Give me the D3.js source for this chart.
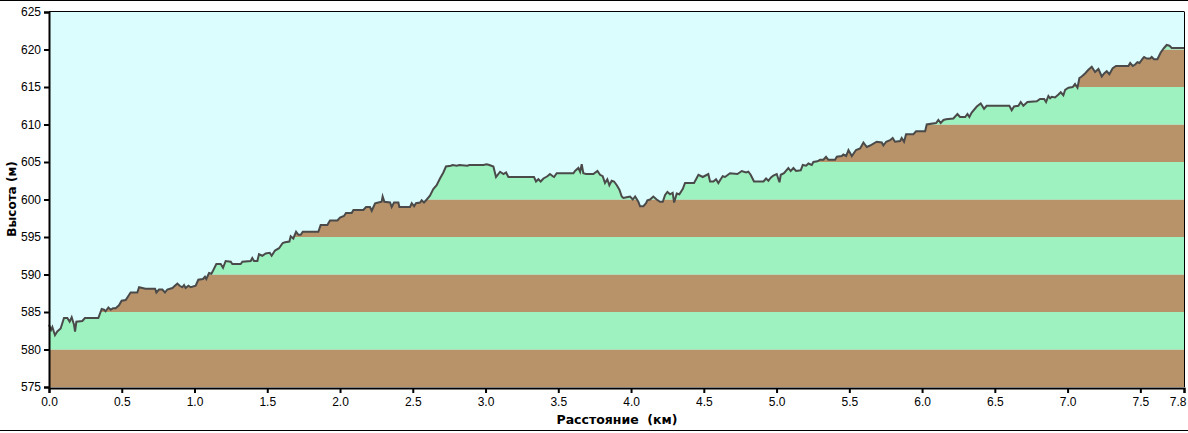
<!DOCTYPE html>
<html><head><meta charset="utf-8">
<script src="https://cdn.jsdelivr.net/npm/d3@7"></script>
<style>
html,body{margin:0;padding:0;background:#fff;}
svg{display:block;}
text{font-family:"Liberation Sans",Arial,sans-serif;}
</style></head>
<body><svg id="c" width="1188" height="433"></svg>
<script>
const distanceKm = [
0.000,0.014,0.023,0.041,0.057,0.080,0.103,0.126,0.142,0.156,0.172,0.179,0.188,0.229,0.247,0.339,0.362,0.378,0.389,0.408,
0.424,0.440,0.458,0.481,0.499,0.527,0.561,0.607,0.619,0.664,0.729,0.738,0.756,0.779,0.797,0.813,0.848,0.882,0.898,0.916,
0.928,0.939,0.958,0.974,1.008,1.026,1.058,1.072,1.081,1.100,1.116,1.127,1.150,1.180,1.196,1.214,1.249,1.260,1.317,1.329,
1.386,1.397,1.409,1.432,1.443,1.466,1.489,1.517,1.530,1.553,1.581,
1.606,1.622,1.652,1.661,1.679,1.698,1.714,1.730,1.744,1.851,1.867,1.913,1.931,1.982,2.000,2.027,2.041,2.080,2.092,2.160,
2.179,2.206,2.218,2.241,2.263,2.286,2.293,2.305,2.344,2.355,2.371,2.401,2.408,2.481,2.493,2.509,2.522,2.550,2.561,2.577,
2.596,2.618,2.641,2.664,2.687,2.710,2.728,2.761,2.774,2.802,2.820,2.875,2.889,2.985,3.008,3.026,3.054,3.072,3.100,3.123,
3.141,3.157,
3.333,3.347,3.363,3.379,3.398,3.425,3.443,3.462,3.471,3.489,3.604,3.615,3.638,3.650,3.661,3.672,3.691,3.741,3.769,3.787,
3.805,3.821,3.837,3.851,3.867,3.883,3.902,3.920,3.936,3.947,3.970,3.993,4.012,4.028,4.050,4.062,4.085,4.103,4.112,4.131,
4.153,4.176,4.199,4.218,4.234,4.250,4.268,4.286,4.296,4.314,4.332,4.355,4.371,4.406,4.433,4.463,4.493,4.531,4.543,4.566,
4.584,4.600,4.616,4.630,4.646,
4.680,4.731,4.761,4.790,4.806,4.822,4.845,4.910,4.928,4.944,4.960,4.978,5.001,5.020,5.029,5.051,5.081,5.097,5.116,5.134,
5.166,5.180,5.203,5.219,5.242,5.253,5.281,5.299,5.322,5.340,5.356,5.402,5.414,5.448,5.459,5.478,5.494,5.517,5.546,5.574,
5.597,5.620,5.643,5.688,5.723,5.734,5.753,5.780,5.798,5.814,5.849,5.860,5.876,5.890,5.940,5.959,6.021,6.032,6.096,6.112,
6.128,6.147,6.165,
6.215,6.243,6.261,6.296,6.312,6.325,6.341,6.376,6.403,6.426,6.444,6.600,6.616,6.632,6.662,6.678,6.696,6.724,6.788,6.811,
6.839,6.852,6.868,6.880,6.891,6.914,6.937,6.953,6.971,6.983,7.006,7.035,7.051,7.068,7.081,7.097,7.120,7.143,7.166,7.189,
7.212,7.235,7.251,7.269,7.287,7.310,7.333,7.418,7.430,7.448,7.464,7.480,7.494,7.517,7.526,7.544,7.567,7.578,7.594,7.617,
7.640,7.663,7.681,7.700,7.716,7.800
];
const elevationM = [
583.3,582.6,583.0,581.9,582.4,582.8,584.2,584.2,583.7,584.3,583.3,582.4,583.7,583.8,584.2,584.2,585.4,585.3,585.1,585.6,
585.3,585.5,585.5,585.9,586.5,586.6,587.6,587.6,588.3,588.1,588.1,587.6,588.0,588.0,587.6,588.0,588.2,588.8,588.5,588.3,
588.6,588.2,588.5,588.3,588.5,589.3,589.4,589.7,589.4,590.2,590.1,590.5,591.4,591.4,590.9,591.8,591.7,591.4,591.4,591.7,
591.8,592.2,591.8,591.8,592.7,592.5,592.8,592.9,592.5,593.2,593.5,
594.2,594.3,594.4,595.1,594.8,595.7,595.3,595.3,595.7,595.7,596.6,596.6,597.2,597.2,597.6,597.8,598.2,598.2,598.6,598.6,
599.0,599.0,598.5,599.5,599.6,599.7,600.4,599.7,599.6,599.0,599.6,599.6,599.0,599.0,599.5,599.1,599.5,599.6,599.9,599.6,
600.0,600.5,601.4,601.9,602.8,603.6,604.4,604.5,604.6,604.5,604.6,604.5,604.6,604.6,604.7,604.6,604.4,603.0,603.7,603.4,
603.6,603.0,
603.0,602.4,602.7,602.4,602.8,603.1,603.4,603.1,603.0,603.5,603.5,603.8,604.2,603.7,604.7,603.5,603.4,603.4,603.8,603.3,
603.1,602.2,602.7,601.9,602.5,602.4,601.9,601.3,600.4,600.2,600.3,600.4,600.0,600.4,599.7,599.1,599.1,599.5,599.9,600.0,
600.4,600.0,599.7,599.7,600.6,601.0,600.7,600.9,599.6,600.8,600.7,601.4,602.2,602.2,602.2,603.3,603.0,603.4,602.4,602.4,
602.7,602.2,602.7,603.1,603.0,
603.5,603.4,603.8,603.6,603.7,603.3,602.4,602.4,602.8,602.5,602.9,603.2,603.4,602.3,603.3,603.5,604.2,603.8,604.2,603.8,
603.9,604.6,604.5,604.8,604.6,605.0,605.1,605.3,605.3,605.7,605.3,605.3,605.7,605.8,606.0,605.8,606.6,605.8,606.6,606.8,
607.6,607.0,607.2,607.7,607.6,607.2,607.7,607.9,608.2,607.7,607.8,608.2,607.7,608.7,608.7,609.1,609.1,610.0,610.2,610.6,
610.2,610.6,610.7,
610.8,611.4,611.0,611.0,611.4,611.0,611.6,612.4,612.8,612.1,612.5,612.5,611.9,612.4,612.5,613.0,612.5,613.0,613.1,613.4,
613.4,613.0,613.8,613.5,613.7,613.6,614.0,614.3,613.9,614.6,614.9,615.0,615.4,614.9,616.2,616.4,616.8,617.3,617.7,617.0,
617.4,616.4,616.8,617.1,616.7,617.5,617.8,617.8,618.2,617.8,618.0,618.3,618.2,618.8,619.0,618.8,618.8,619.0,618.7,618.7,
619.6,620.2,620.6,620.5,620.2,620.2
];
const yTicks = [575,580,585,590,595,600,605,610,615,620,625];
const xTicks = [0,0.5,1.0,1.5,2.0,2.5,3.0,3.5,4.0,4.5,5.0,5.5,6.0,6.5,7.0,7.5,7.8];
const xTickLabels = ["0.0","0.5","1.0","1.5","2.0","2.5","3.0","3.5","4.0","4.5","5.0","5.5","6.0","6.5","7.0","7.5","7.8"];
const bandStarts = [575,580,585,590,595,600,605,610,615,620];
const bandColors = ["#b8936a","#9ef2bf"];
const yTitle = "Высота (м)";
const xTitle = "Расстояние  (км)";

const svg = d3.select("#c");
const x = d3.scaleLinear().domain([0,7.8]).range([49,1184]);
const y = d3.scaleLinear().domain([575,625]).range([387,12]);
const pts = distanceKm.map((d,i)=>[d,elevationM[i]]);

// outer frame lines
svg.append("line").attr("x1",0).attr("x2",1188).attr("y1",0.5).attr("y2",0.5).attr("stroke","#000").attr("stroke-width",1);
svg.append("line").attr("x1",0).attr("x2",1188).attr("y1",430.5).attr("y2",430.5).attr("stroke","#000").attr("stroke-width",1);

// sky background
svg.append("rect").attr("x",x(0)).attr("y",y(625)).attr("width",x(7.8)-x(0)).attr("height",y(575)-y(625)).attr("fill","#dbfdfd");

// clip to terrain area
const area = d3.area().x(d=>x(d[0])).y0(y(575)).y1(d=>y(d[1]));
svg.append("clipPath").attr("id","terr").append("path").attr("d",area(pts));
svg.append("g").attr("clip-path","url(#terr)")
  .selectAll("rect").data(bandStarts).join("rect")
  .attr("x",x(0)).attr("width",x(7.8)-x(0))
  .attr("y",d=>y(d+5)).attr("height",d=>y(d)-y(d+5))
  .attr("fill",(d,i)=>bandColors[i%2]);

// profile line
svg.append("path").attr("d",d3.line().x(d=>x(d[0])).y(d=>y(d[1]))(pts))
  .attr("fill","none").attr("stroke","#4a4a4a").attr("stroke-width",2).attr("stroke-linejoin","miter");

// plot frame top/right
svg.append("line").attr("x1",x(0)).attr("x2",x(7.8)).attr("y1",11.5).attr("y2",11.5).attr("stroke","#000");
svg.append("line").attr("x1",x(7.8)+0.5).attr("x2",x(7.8)+0.5).attr("y1",11.5).attr("y2",y(575)).attr("stroke","#000");

// axes
const ya = d3.axisLeft(y).tickValues(yTicks).tickSize(5).tickPadding(3).tickFormat(d3.format("d"));
const gy = svg.append("g").attr("transform","translate(49,0)").call(ya);
gy.select(".domain").attr("stroke","#000").attr("stroke-width",2);
gy.selectAll(".tick line").attr("stroke","#000").attr("stroke-width",2);
gy.selectAll("text").attr("font-size",12).attr("fill","#000");

const xa = d3.axisBottom(x).tickValues(xTicks).tickSize(5).tickPadding(4).tickFormat((d,i)=>xTickLabels[i]);
const gx = svg.append("g").attr("transform","translate(0,388)").call(xa);
gx.select(".domain").attr("stroke","#000").attr("stroke-width",2);
gx.selectAll(".tick line").attr("stroke","#000").attr("stroke-width",2);
gx.selectAll("text").attr("font-size",12).attr("fill","#000");
gx.selectAll(".tick").filter(d=>d===7.8).select("text").attr("text-anchor","end").attr("dx",2);

// titles
svg.append("text").attr("x",617).attr("y",424).attr("text-anchor","middle")
  .style("font-family","'DejaVu Sans',sans-serif")
  .attr("font-size",12.5).attr("font-weight","bold").attr("xml:space","preserve").style("white-space","pre").text(xTitle);
svg.append("text").attr("transform","translate(16,199) rotate(-90)").attr("text-anchor","middle")
  .style("font-family","'DejaVu Sans',sans-serif")
  .attr("font-size",12).attr("font-weight","bold").text(yTitle);
</script></body></html>
